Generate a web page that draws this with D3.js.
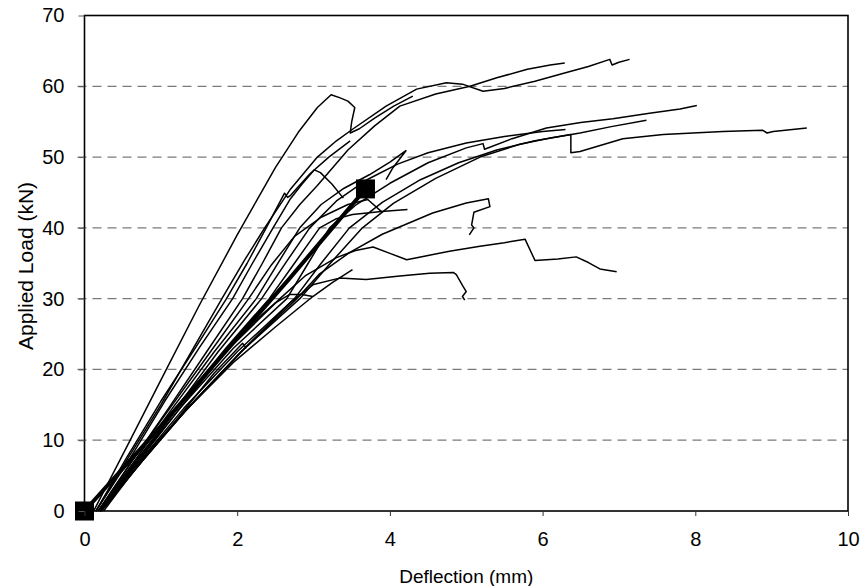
<!DOCTYPE html>
<html>
<head>
<meta charset="utf-8">
<script src="https://cdn.jsdelivr.net/npm/d3@7"></script>
<style>
  html, body { margin: 0; padding: 0; background: #fff; }
  text { font-family: "Liberation Sans", Arial, sans-serif; fill: #000; }
</style>
</head>
<body>
<div id="chart"></div>
<script>
// axis ticks and titles
const xTicks = [0, 2, 4, 6, 8, 10];
const yTicks = [0, 10, 20, 30, 40, 50, 60, 70];
const xTitle = 'Deflection (mm)';
const yTitle = 'Applied Load (kN)';

// load-deflection curves, [deflection mm, load kN]
const curveA = [[0.12,0],[0.55,9],[1.0,18.5],[1.5,29],[2.0,39],[2.5,48.5],[2.8,53.5],[3.05,57],[3.23,58.8],[3.34,58.4],[3.45,57.9],[3.54,57],[3.5,55],[3.48,53.4],[3.6,54],[3.8,55.5],[4.05,57.2],[4.3,58.6]];
const curveB = [[0.15,0],[0.6,8],[1.0,15],[1.4,22.5],[1.8,30],[2.1,35.5],[2.36,40],[2.7,45.5],[3.05,50],[3.3,52.3],[3.52,54],[3.95,57.2],[4.35,59.6],[4.74,60.5],[4.95,60.3],[5.22,59.3],[5.5,59.7],[5.9,60.7],[6.3,61.9],[6.6,62.8],[6.88,63.8],[6.91,63.0],[7.0,63.4],[7.14,63.8]];
const curveC = [[0.18,0],[0.62,7],[1.1,14.5],[1.6,22.5],[2.07,30],[2.33,35],[2.58,40],[2.82,43.3],[3.05,46],[3.45,51],[3.8,54.4],[4.13,57.2],[4.6,58.9],[5.05,60],[5.4,61.2],[5.8,62.4],[6.1,63],[6.29,63.3]];
const curveD = [[0.2,0],[0.7,7],[1.25,14.5],[1.95,23],[2.65,30],[2.93,35],[3.21,40],[3.55,43.2],[4.0,46.3],[4.5,49.2],[5.0,51.3],[5.22,51.9],[5.24,51.1],[5.6,52.6],[6.05,54.1],[6.5,54.9],[6.92,55.4],[7.4,56.2],[7.8,56.8],[8.02,57.3]];
const curveE = [[0.22,0],[0.75,7],[1.35,14.5],[2.05,22.5],[2.82,30],[3.22,35],[3.64,40],[4.05,43.5],[4.6,47],[5.18,50],[5.7,51.8],[6.1,52.7],[6.37,53.2],[6.37,50.6],[6.49,50.8],[7.05,52.6],[7.58,53.2],[8.36,53.6],[8.88,53.8],[8.94,53.4],[9.02,53.6],[9.46,54.1]];
const curveF = [[0.2,0],[0.72,7],[1.3,14.5],[2.0,22.5],[2.75,30],[3.1,35],[3.47,40],[3.9,43.6],[4.4,46.8],[4.9,49.2],[5.4,51],[5.9,52.3],[6.49,53.4],[6.9,54.3],[7.36,55.2]];
const curveG = [[0.22,0],[0.75,7],[1.35,14.5],[2.1,23],[2.78,30],[3.08,33.5],[3.47,36.5],[3.9,39.1],[4.56,42.1],[5.0,43.5],[5.29,44.1],[5.31,43],[5.1,42.2],[5.07,40.4],[5.1,40],[5.04,39]];
const curveH = [[0.2,0],[0.7,7],[1.25,14.5],[1.85,22.5],[2.56,30],[2.9,33.3],[3.3,35.8],[3.55,36.8],[3.78,37.3],[4.0,36.4],[4.22,35.5],[4.5,36.1],[4.78,36.7],[5.18,37.4],[5.5,37.9],[5.77,38.4],[5.9,35.4],[6.2,35.6],[6.44,35.9],[6.6,35.1],[6.75,34.2],[6.97,33.8]];
const curveI = [[0.2,0],[0.75,7],[1.35,14.5],[2.05,22.5],[2.7,29.5],[3.0,32],[3.34,32.9],[3.69,32.7],[4.13,33.2],[4.52,33.6],[4.83,33.7],[4.87,33.4],[4.96,31.7],[5.0,31],[4.95,30.3],[4.98,29.8]];
const curveJ = [[0.25,0],[0.85,8.6],[1.4,15],[1.95,21],[2.5,26],[2.99,30.3],[3.25,32.3],[3.51,34.1]];
const curveK = [[0.2,0],[0.7,7],[1.25,15],[1.85,23],[2.42,30],[2.75,35],[3.08,40],[3.3,41.3],[3.51,41.9],[3.89,42.3],[4.23,42.6]];
const curveL = [[0.18,0],[0.65,7],[1.15,14.5],[1.7,22.5],[2.25,30],[2.55,35.3],[2.82,40],[3.1,43.3],[3.4,45.6],[3.73,47.5],[4.0,49.3],[4.21,50.9],[4.04,48.5],[3.95,46.8]];
const curveM = [[0.15,0],[0.6,7.5],[1.05,15.5],[1.5,23],[1.94,30],[2.2,35],[2.47,40],[2.69,44],[2.85,46.2],[3.01,48.2],[3.09,47.8],[3.24,46.2],[3.39,44.2]];
const curveN = [[0.15,0],[0.55,7.5],[1.0,15.5],[1.45,23],[1.86,30],[2.13,35],[2.38,40],[2.62,44.9],[2.66,44.3],[2.7,44.6],[2.95,47.6],[3.2,50],[3.48,52.3]];
const curveO = [[0.2,0],[0.68,7],[1.2,14.5],[1.75,22.5],[2.32,30],[2.65,35.3],[2.95,40],[3.3,43.8],[3.7,46.8],[4.1,49],[4.5,50.6],[5.0,52],[5.5,52.9],[6.0,53.6],[6.3,53.9]];
const curveP = [[0.2,0],[0.7,7.5],[1.25,15],[1.8,22],[2.3,27.5],[2.5,29.4],[2.69,30.6],[2.85,30.6],[2.99,30.3]];
const curveQ = [[0.22,0],[0.75,7],[1.25,13.5],[1.7,19.5],[2.07,23.7],[2.12,23]];
const curveR = [[0.18,0],[0.65,7.5],[1.15,15],[1.65,22.5],[2.15,30],[2.45,34.8],[2.75,38.8],[3.1,41.5],[3.45,43.3],[3.71,44],[3.89,42.3]];
const curves = [curveA, curveB, curveC, curveD, curveE, curveF, curveG, curveH, curveI,
                curveJ, curveK, curveL, curveM, curveN, curveO, curveP, curveQ, curveR];

// the heavy line between the two square markers
const meanLine = [[0,0],[1,12],[2,24.4],[2.69,32.9],[3.2,39.4],[3.68,45.5]];
const markers = [[0,0],[3.68,45.5]];

// set the dimensions of the graphic
const graphicWidth = 864;
const graphicHeight = 586;
const plot = {left: 84.5, right: 848, top: 15.5, bottom: 511};

const svg = d3.select('#chart')
    .append('svg')
    .attr('width', graphicWidth)
    .attr('height', graphicHeight);

svg.append('rect')
    .attr('width', graphicWidth)
    .attr('height', graphicHeight)
    .attr('fill', '#fff');

const x = d3.scaleLinear().domain([0, 10]).range([plot.left, plot.right]);
const y = d3.scaleLinear().domain([0, 70]).range([plot.bottom, plot.top]);

// dashed gridlines
svg.append('g')
    .selectAll('line')
    .data(yTicks.filter(d => d > 0 && d < 70))
    .join('line')
    .attr('x1', plot.left - 7)
    .attr('x2', plot.right)
    .attr('y1', d => y(d))
    .attr('y2', d => y(d))
    .attr('stroke', '#7a7a7a')
    .attr('stroke-width', 1.2)
    .attr('stroke-dasharray', '9,6');

// the test curves
const line = d3.line()
    .x(d => x(d[0]))
    .y(d => y(d[1]));

svg.append('g')
    .selectAll('path')
    .data(curves)
    .join('path')
    .attr('d', line)
    .attr('fill', 'none')
    .attr('stroke', '#000')
    .attr('stroke-width', 1.5)
    .attr('stroke-linejoin', 'round');

svg.append('path')
    .datum(meanLine)
    .attr('d', line)
    .attr('fill', 'none')
    .attr('stroke', '#000')
    .attr('stroke-width', 4);

svg.append('g')
    .selectAll('rect')
    .data(markers)
    .join('rect')
    .attr('x', d => x(d[0]) - 9.5)
    .attr('y', d => y(d[1]) - 9.5)
    .attr('width', 19)
    .attr('height', 19)
    .attr('fill', '#000');

// plot frame
svg.append('rect')
    .attr('x', plot.left)
    .attr('y', plot.top)
    .attr('width', plot.right - plot.left)
    .attr('height', plot.bottom - plot.top)
    .attr('fill', 'none')
    .attr('stroke', '#000')
    .attr('stroke-width', 1.6);

// y axis
const yAxis = svg.append('g')
    .attr('transform', 'translate(' + plot.left + ',0)')
    .call(d3.axisLeft(y).tickValues(yTicks).tickSize(6).tickPadding(14));
yAxis.select('.domain').remove();
yAxis.selectAll('.tick line').attr('stroke', '#555');
yAxis.selectAll('.tick text')
    .attr('font-size', 20)
    .attr('font-family', '"Liberation Sans", Arial, sans-serif')
    .attr('fill', '#000');

// x axis
const xAxis = svg.append('g')
    .attr('transform', 'translate(0,' + plot.bottom + ')')
    .call(d3.axisBottom(x).tickValues(xTicks).tickSize(5).tickPadding(16));
xAxis.select('.domain').remove();
xAxis.selectAll('.tick line').attr('stroke', '#333');
xAxis.selectAll('.tick text')
    .attr('font-size', 20)
    .attr('font-family', '"Liberation Sans", Arial, sans-serif')
    .attr('fill', '#000');

// axis titles
svg.append('text')
    .attr('x', (plot.left + plot.right) / 2)
    .attr('y', 583)
    .attr('text-anchor', 'middle')
    .attr('font-size', 19)
    .text(xTitle);

svg.append('text')
    .attr('transform', 'translate(33,266) rotate(-90)')
    .attr('text-anchor', 'middle')
    .attr('font-size', 21)
    .text(yTitle);
</script>
</body>
</html>
